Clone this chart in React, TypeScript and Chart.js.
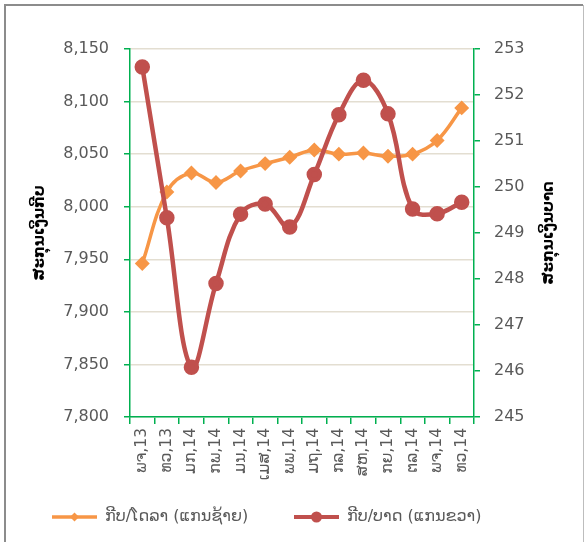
import React, { useEffect, useRef } from "react";
import { Chart, registerables } from "chart.js";

Chart.register(...registerables);

const categories = ["ພຈ,13", "ທວ,13", "ມກ,14", "ກພ,14", "ມນ,14", "ເມສ,14", "ພພ,14", "ມຖ,14", "ກລ,14", "ສຫ,14", "ກຍ,14", "ຕລ,14", "ພຈ,14", "ທວ,14"];
const kipPerDollar = [7946, 8014, 8032, 8023, 8034, 8041, 8047, 8054, 8050, 8051, 8048, 8050, 8063, 8094];
const kipPerBaht = [252.61, 249.33, 246.08, 247.9, 249.41, 249.63, 249.13, 250.27, 251.57, 252.32, 251.59, 249.52, 249.42, 249.67];
const leftTitle = "ສະກຸນເງິນກີບ";
const rightTitle = "ສະກຸນເງິນບາດ";
const legendDollar = "ກີບ/ໂດລາ (ແກນຊ້າຍ)";
const legendBaht = "ກີບ/ບາດ (ແກນຂວາ)";

const ORANGE = "#f79646";
const RED = "#c0504d";
const GREEN = "#00b050";
const GRID = "#e3ded1";
const TEXT = "#595959";
const FONT = "'DejaVu Sans', 'Noto Sans', sans-serif";

const decor = {
  id: "decor",
  afterDraw(chart: any) {
    const ctx = chart.ctx;
    const area = chart.chartArea;
    const midY = (area.top + area.bottom) / 2;
    ctx.save();
    // frame
    ctx.strokeStyle = "#8c8c8c";
    ctx.lineWidth = 2;
    ctx.beginPath();
    ctx.moveTo(5, 560);
    ctx.lineTo(5, 5);
    ctx.lineTo(583, 5);
    ctx.stroke();
    ctx.strokeStyle = "#bdbdbd";
    ctx.lineWidth = 1;
    ctx.beginPath();
    ctx.moveTo(583.5, 5);
    ctx.lineTo(583.5, 560);
    ctx.stroke();

    // axis titles (both rotated -90)
    ctx.fillStyle = "#000";
    ctx.font = `bold 15px ${FONT}`;
    ctx.textAlign = "center";
    ctx.textBaseline = "middle";
    [[40, leftTitle], [549, rightTitle]].forEach(([x, t]) => {
      ctx.save();
      ctx.translate(x as number, midY);
      ctx.rotate(-Math.PI / 2);
      ctx.fillText(t as string, 0, 0);
      ctx.restore();
    });

    // legend
    const ly = 517;
    const items = [
      { x: 52, color: ORANGE, width: 3.5, style: "diamond", text: legendDollar },
      { x: 294, color: RED, width: 4, style: "circle", text: legendBaht },
    ];
    ctx.font = `16px ${FONT}`;
    ctx.textAlign = "left";
    items.forEach((it) => {
      ctx.strokeStyle = it.color;
      ctx.fillStyle = it.color;
      ctx.lineWidth = it.width;
      ctx.beginPath();
      ctx.moveTo(it.x, ly);
      ctx.lineTo(it.x + 45, ly);
      ctx.stroke();
      const cx = it.x + 22.5;
      ctx.beginPath();
      if (it.style === "circle") {
        ctx.arc(cx, ly, 5.5, 0, Math.PI * 2);
      } else {
        ctx.moveTo(cx, ly - 4.5);
        ctx.lineTo(cx + 4.5, ly);
        ctx.lineTo(cx, ly + 4.5);
        ctx.lineTo(cx - 4.5, ly);
        ctx.closePath();
      }
      ctx.fill();
      ctx.fillStyle = TEXT;
      ctx.fillText(it.text, it.x + 53, ly);
    });
    ctx.restore();
  },
};

export default function App() {
  const ref = useRef<HTMLCanvasElement | null>(null);
  useEffect(() => {
    document.body.style.margin = "0";
    const canvas = ref.current;
    if (!canvas) return;
    const chart = new Chart(canvas, {
      type: "line",
      data: {
        labels: categories,
        datasets: [
          {
            label: legendDollar,
            data: kipPerDollar,
            yAxisID: "y",
            borderColor: ORANGE,
            backgroundColor: ORANGE,
            borderWidth: 3.5,
            pointStyle: "rectRot",
            pointRadius: 5,
            tension: 0.38,
            order: 2,
          },
          {
            label: legendBaht,
            data: kipPerBaht,
            yAxisID: "y1",
            borderColor: RED,
            backgroundColor: RED,
            borderWidth: 4.5,
            pointStyle: "circle",
            pointRadius: 5.5,
            tension: 0.38,
            order: 1,
          },
        ],
      },
      options: {
        responsive: false,
        animation: false,
        layout: { padding: { left: 0, right: 0, top: 49, bottom: 0 } },
        plugins: { legend: { display: false }, tooltip: { enabled: false } },
        scales: {
          x: {
            offset: true,
            grid: { drawOnChartArea: false, offset: true, tickLength: 7, tickColor: GREEN, lineWidth: 1.5 },
            border: { color: GREEN, width: 1.5 },
            ticks: { minRotation: 90, maxRotation: 90, padding: 4, color: TEXT, font: { family: FONT, size: 15.5 }, autoSkip: false },
            afterFit: (s: any) => { s.height = 125; },
          },
          y: {
            position: "left",
            min: 7800,
            max: 8150,
            grid: { color: GRID, lineWidth: 1.5, tickLength: 6, tickColor: GREEN },
            border: { color: GREEN, width: 1.5 },
            ticks: {
              stepSize: 50,
              padding: 15,
              color: TEXT,
              font: { family: FONT, size: 16 },
              callback: (v: any) => Number(v).toLocaleString("en-US"),
            },
            afterFit: (s: any) => { s.width = 130; },
          },
          y1: {
            position: "right",
            min: 245,
            max: 253,
            grid: { drawOnChartArea: false, tickLength: 6, tickColor: GREEN, lineWidth: 1.5 },
            border: { color: GREEN, width: 1.5 },
            ticks: { stepSize: 1, padding: 14, color: TEXT, font: { family: FONT, size: 16 } },
            afterFit: (s: any) => { s.width = 110; },
          },
        },
      },
      plugins: [decor],
    });
    return () => chart.destroy();
  }, []);
  return (
    <div style={{ position: "absolute", left: 0, top: 0, width: 584, height: 542, background: "#fff" }}>
      <canvas ref={ref} width={584} height={542} />
    </div>
  );
}
